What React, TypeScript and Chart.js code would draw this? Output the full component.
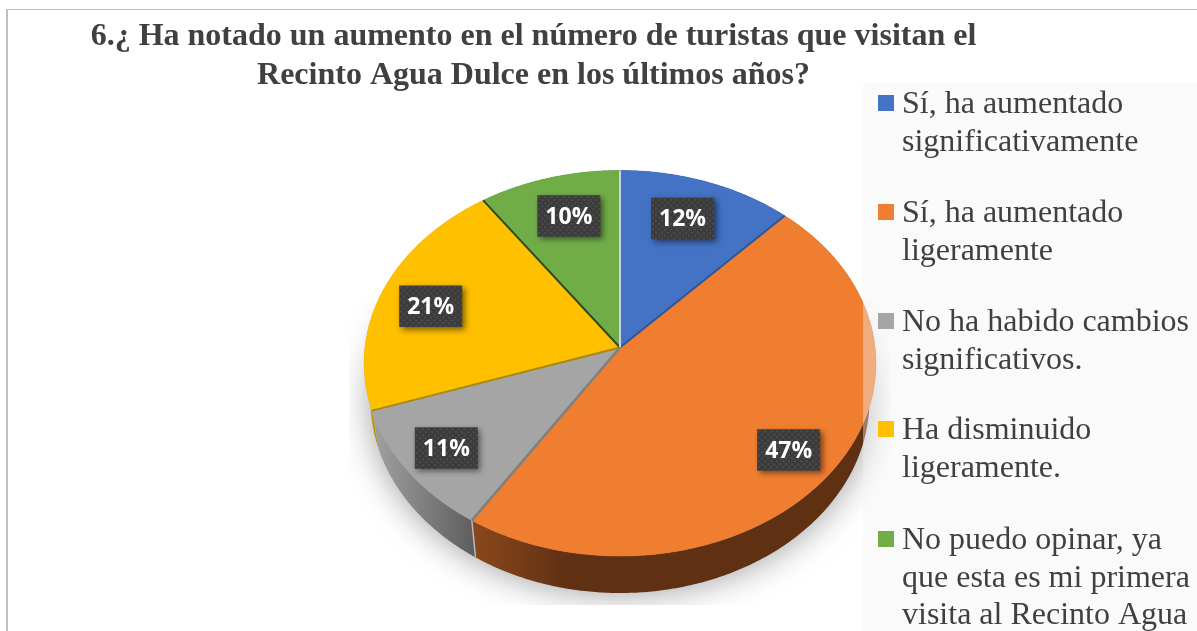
import React, { useEffect, useRef } from "react";
import { Chart, registerables } from "chart.js";

Chart.register(...registerables);

const titleLines = [
  "6.¿ Ha notado un aumento en el número de turistas que visitan el",
  "Recinto Agua Dulce en los últimos años?",
];
const categories = [
  "Sí, ha aumentado significativamente",
  "Sí, ha aumentado ligeramente",
  "No ha habido cambios significativos.",
  "Ha disminuido ligeramente.",
  "No puedo opinar, ya que esta es mi primera visita al Recinto Agua",
];
const legendLines = [
  ["Sí, ha aumentado", "significativamente"],
  ["Sí, ha aumentado", "ligeramente"],
  ["No ha habido cambios", "significativos."],
  ["Ha disminuido", "ligeramente."],
  ["No puedo opinar, ya", "que esta es mi primera", "visita al Recinto Agua"],
];
const legendTops = [103, 212, 321, 429, 539];
const shares = [12, 47.1, 10.7, 20.5, 9.7];
const colors = ["#4472C4", "#F07E31", "#A5A5A5", "#FFC000", "#70AD47"];
const sideDark = ["#223962", "#5F3012", "#666666", "#806000", "#38572A"];
const sideLight = ["#2F5597", "#8A481C", "#A0A0A0", "#BF9000", "#548235"];
const dividerColors = ["#2F5597", "#7F7F7F", "#A58A10", "#2E4A1E", "#C5D3EC"];
const dividerWidths = [2, 2.5, 2, 2, 2];
const labelNudges = [
  [-1.5, -7.5],
  [18.5, 14.5],
  [-23.5, 12.5],
  [-18, 1],
  [1, -7],
];

// Tilted-disc projection used for the 3D look
const CX = 620;
const CY = 347.5;
const RX = 255;
const KY = 191.5;
const PERSP = 0.0817;
const DEPTH = 37;
const BOTTOM_SCALE = 0.975;

function project(theta: number, f = 1, bottom = false): [number, number] {
  const u = Math.sin(theta) * f;
  const v = -Math.cos(theta) * f;
  const d = 1 - PERSP * v;
  const s = bottom ? BOTTOM_SCALE : 1;
  return [CX + (RX * s * u) / d, CY + (KY * v) / d + (bottom ? DEPTH : 0)];
}

function rimPath(ctx: CanvasRenderingContext2D, a: number, b: number, bottom = false) {
  const n = Math.max(2, Math.ceil(Math.abs(b - a) / 0.01));
  for (let i = 0; i <= n; i++) {
    const [x, y] = project(a + ((b - a) * i) / n, 1, bottom);
    ctx.lineTo(x, y);
  }
}

function arcAngles(el: any): [number, number] {
  return [el.startAngle + Math.PI / 2, el.endAngle + Math.PI / 2];
}

const disc3d = {
  id: "disc3d",
  beforeDatasetsDraw(chart: any) {
    const ctx: CanvasRenderingContext2D = chart.ctx;
    const arcs = chart.getDatasetMeta(0).data;

    // soft shadow under the disc, clipped like the reference
    ctx.save();
    ctx.beginPath();
    ctx.rect(349, 300, 541, 305);
    ctx.clip();
    ctx.shadowColor = "rgba(0,0,0,0.38)";
    ctx.shadowBlur = 34;
    ctx.shadowOffsetX = 2000;
    ctx.shadowOffsetY = 1;
    ctx.fillStyle = "#000";
    ctx.translate(-2000, 0);
    ctx.beginPath();
    rimPath(ctx, 0, Math.PI * 2, true);
    ctx.closePath();
    ctx.fill();
    ctx.restore();

    // side walls
    arcs.forEach((el: any, i: number) => {
      const [a, b] = arcAngles(el);
      const g = ctx.createLinearGradient(472, 0, 570, 0);
      g.addColorStop(0, sideLight[i]);
      g.addColorStop(1, sideDark[i]);
      ctx.fillStyle = i === 2 ? grayGradient(ctx) : g;
      ctx.beginPath();
      const [sx, sy] = project(a);
      ctx.moveTo(sx, sy);
      rimPath(ctx, a, b);
      rimPath(ctx, b, a, true);
      ctx.closePath();
      ctx.fill();
    });
    // seam between the grey and orange walls
    const seam = arcAngles(arcs[1])[1];
    const [tx, ty] = project(seam);
    const [bx, by] = project(seam, 1, true);
    ctx.strokeStyle = "#B8B8B8";
    ctx.lineWidth = 1.5;
    ctx.beginPath();
    ctx.moveTo(tx, ty);
    ctx.lineTo(bx, by);
    ctx.stroke();
  },
  beforeDatasetDraw(chart: any) {
    const ctx: CanvasRenderingContext2D = chart.ctx;
    const arcs = chart.getDatasetMeta(0).data;
    arcs.forEach((el: any, i: number) => {
      const [a, b] = arcAngles(el);
      ctx.fillStyle = colors[i];
      ctx.strokeStyle = colors[i];
      ctx.lineWidth = 0.5;
      ctx.beginPath();
      ctx.moveTo(CX, CY);
      rimPath(ctx, a, b);
      ctx.closePath();
      ctx.fill();
      ctx.stroke();
    });
    arcs.forEach((el: any, i: number) => {
      const [, b] = arcAngles(el);
      const [x, y] = project(b);
      ctx.strokeStyle = dividerColors[i];
      ctx.lineWidth = dividerWidths[i];
      ctx.beginPath();
      ctx.moveTo(CX, CY);
      ctx.lineTo(x, y);
      ctx.stroke();
    });
    return false;
  },
  afterDatasetsDraw(chart: any) {
    const ctx: CanvasRenderingContext2D = chart.ctx;
    const arcs = chart.getDatasetMeta(0).data;
    const values = chart.data.datasets[0].data;
    const dots = dotPattern(ctx);
    arcs.forEach((el: any, i: number) => {
      const [a, b] = arcAngles(el);
      const [x0, y0] = project((a + b) / 2, 0.72);
      const x = x0 + labelNudges[i][0];
      const y = y0 + labelNudges[i][1];
      const w = 63;
      const h = 41.5;
      ctx.save();
      ctx.shadowColor = "rgba(0,0,0,0.5)";
      ctx.shadowBlur = 6;
      ctx.shadowOffsetX = 2.5;
      ctx.shadowOffsetY = 2.5;
      ctx.fillStyle = "#3B3B3B";
      ctx.fillRect(x - w / 2, y - h / 2, w, h);
      ctx.restore();
      ctx.save();
      ctx.translate(x - w / 2, y - h / 2);
      ctx.fillStyle = dots;
      ctx.fillRect(0, 0, w, h);
      ctx.restore();
      ctx.fillStyle = "#FFFFFF";
      ctx.font = "bold 23px 'Open Sans', 'Noto Sans', sans-serif";
      ctx.textAlign = "center";
      ctx.textBaseline = "middle";
      ctx.fillText(`${Math.round(values[i])}%`, x, y + 1);
    });
  },
  afterDraw(chart: any) {
    const ctx: CanvasRenderingContext2D = chart.ctx;
    // frame
    ctx.fillStyle = "#BFBFBF";
    ctx.fillRect(6, 9, 1191, 1);
    ctx.fillRect(6, 9, 2, 622);
    // legend plate, semi-transparent over the disc
    ctx.fillStyle = "rgba(242,242,242,0.4)";
    ctx.fillRect(863, 83, 334, 548);
    // legend
    ctx.textAlign = "left";
    ctx.textBaseline = "middle";
    ctx.font = "32px 'Liberation Serif', serif";
    legendLines.forEach((lines, i) => {
      ctx.fillStyle = colors[i];
      ctx.fillRect(878, legendTops[i] - 8, 16, 16);
      ctx.fillStyle = "#404040";
      lines.forEach((line, j) => {
        ctx.fillText(line, 902, legendTops[i] + 2 + j * 37.2);
      });
    });
  },
};

function grayGradient(ctx: CanvasRenderingContext2D) {
  const g = ctx.createLinearGradient(372, 0, 476, 0);
  g.addColorStop(0, "#A2A2A2");
  g.addColorStop(1, "#5C5C5C");
  return g;
}

function dotPattern(ctx: CanvasRenderingContext2D) {
  const c = document.createElement("canvas");
  c.width = 6;
  c.height = 6;
  const p = c.getContext("2d")!;
  p.fillStyle = "rgba(255,255,255,0.09)";
  p.fillRect(1, 1, 2, 2);
  p.fillRect(4, 4, 2, 2);
  return ctx.createPattern(c, "repeat")!;
}

export default function App() {
  const ref = useRef<HTMLCanvasElement>(null);
  useEffect(() => {
    document.body.style.margin = "0";
    document.body.style.background = "#ffffff";
    const chart = new Chart(ref.current!, {
      type: "pie",
      data: {
        labels: categories,
        datasets: [{ data: shares, backgroundColor: colors, borderWidth: 0 }],
      },
      options: {
        animation: false,
        responsive: false,
        layout: { padding: { top: 17, right: 130 } },
        plugins: {
          legend: { display: false },
          tooltip: { enabled: false },
          title: {
            display: true,
            fullSize: false,
            text: titleLines,
            color: "#404040",
            font: { family: "'Liberation Serif', serif", size: 32, weight: "bold", lineHeight: 1.22 },
            padding: { top: 0, bottom: 0 },
          },
        },
      },
      plugins: [disc3d],
    } as any);
    return () => chart.destroy();
  }, []);
  return <canvas ref={ref} width={1197} height={631} style={{ display: "block" }} />;
}
